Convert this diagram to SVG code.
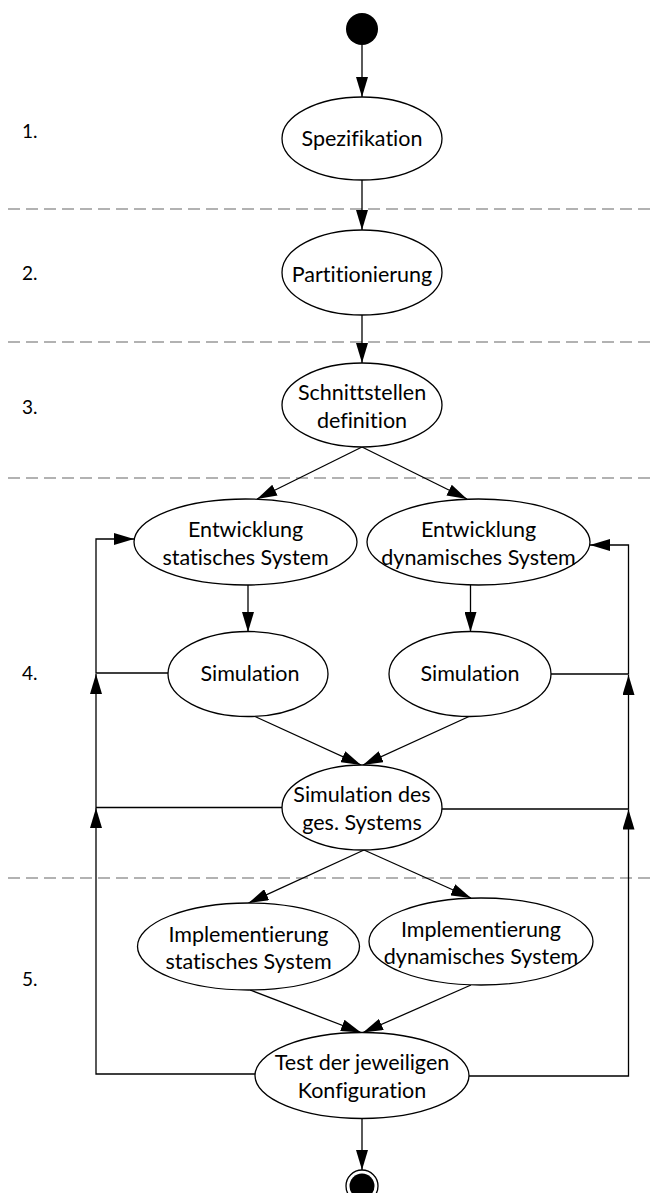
<svg xmlns="http://www.w3.org/2000/svg" width="657" height="1193" viewBox="0 0 657 1193">
  <style>
    .node { fill: #ffffff; stroke: #000000; stroke-width: 1.3; }
    .lbl { font-family: Lato, "Liberation Sans", sans-serif; font-size: 21.5px; fill: #000000; text-anchor: middle; dominant-baseline: central; font-variant-ligatures: none; }
    .num { font-family: Lato, "Liberation Sans", sans-serif; font-size: 19px; fill: #000000; dominant-baseline: central; }
    .sep { stroke: #999999; stroke-width: 1.5; stroke-dasharray: 12 6; fill: none; }
    .edge { stroke: #000000; stroke-width: 1.3; fill: none; marker-end: url(#arrow); }
  </style>
  <defs>
    <marker id="arrow" markerUnits="userSpaceOnUse" markerWidth="20" markerHeight="12" refX="20" refY="6" orient="auto">
      <path d="M0,0 L20,6 L0,12 z" fill="#000000"/>
    </marker>
  </defs>
  <rect width="657" height="1193" fill="#ffffff"/>

  <!-- phase separators -->
  <g id="separators">
    <line class="sep" x1="8" y1="209" x2="652" y2="209"/>
    <line class="sep" x1="8" y1="342" x2="652" y2="342"/>
    <line class="sep" x1="8" y1="478" x2="652" y2="478"/>
    <line class="sep" x1="8" y1="878" x2="652" y2="878"/>
  </g>

  <!-- phase numbers -->
  <g id="phases">
    <text class="num" x="22" y="130">1.</text>
    <text class="num" x="22" y="272">2.</text>
    <text class="num" x="22" y="406">3.</text>
    <text class="num" x="22" y="672">4.</text>
    <text class="num" x="22" y="978">5.</text>
  </g>

  <!-- connectors -->
  <g id="connectors">
    <line class="edge" x1="362" y1="45" x2="362" y2="97"/>
    <line class="edge" x1="362" y1="180" x2="362" y2="230"/>
    <line class="edge" x1="362" y1="315" x2="362" y2="363"/>
    <line class="edge" x1="362" y1="447" x2="257" y2="499"/>
    <line class="edge" x1="362" y1="447" x2="467" y2="499"/>
    <line class="edge" x1="248" y1="585" x2="248" y2="632"/>
    <line class="edge" x1="470.5" y1="585" x2="470.5" y2="632"/>
    <polyline class="edge" points="168,673 96,673 96,539 134,539"/>
    <polyline class="edge" points="551,674 628.5,674 628.5,545 590,545"/>
    <line class="edge" x1="255" y1="716.5" x2="361" y2="765"/>
    <line class="edge" x1="469" y1="716.5" x2="363" y2="765"/>
    <polyline class="edge" points="282,807.5 96,807.5 96,674"/>
    <polyline class="edge" points="442,809 628.5,809 628.5,675"/>
    <line class="edge" x1="364" y1="850" x2="248.5" y2="903"/>
    <line class="edge" x1="364" y1="850" x2="471" y2="898"/>
    <line class="edge" x1="250" y1="990" x2="361" y2="1032.5"/>
    <line class="edge" x1="471" y1="985" x2="363" y2="1032.5"/>
    <polyline class="edge" points="255,1074 96,1074 96,808"/>
    <polyline class="edge" points="469,1076 628.5,1076 628.5,809.5"/>
    <line class="edge" x1="362" y1="1118" x2="362" y2="1170"/>
  </g>

  <!-- nodes -->
  <g id="start">
    <circle cx="362" cy="29" r="16" fill="#000000"/>
  </g>
  <g id="spezifikation">
    <ellipse class="node" cx="362" cy="138.5" rx="80" ry="41.5"/>
    <text class="lbl" x="362" y="138">Spezifikation</text>
  </g>
  <g id="partitionierung">
    <ellipse class="node" cx="362" cy="272.5" rx="80" ry="42.5"/>
    <text class="lbl" x="362" y="274">Partitionierung</text>
  </g>
  <g id="schnittstellen">
    <ellipse class="node" cx="362" cy="405" rx="80" ry="42"/>
    <text class="lbl" x="362" y="392">Schnittstellen</text>
    <text class="lbl" x="362" y="420">definition</text>
  </g>
  <g id="entwicklung-statisch">
    <ellipse class="node" cx="245.5" cy="542" rx="111.5" ry="43"/>
    <text class="lbl" x="245.5" y="529">Entwicklung</text>
    <text class="lbl" x="245.5" y="557">statisches System</text>
  </g>
  <g id="entwicklung-dynamisch">
    <ellipse class="node" cx="478.5" cy="542" rx="111.5" ry="43"/>
    <text class="lbl" x="478.5" y="529">Entwicklung</text>
    <text class="lbl" x="478.5" y="557">dynamisches System</text>
  </g>
  <g id="simulation-statisch">
    <ellipse class="node" cx="248" cy="674" rx="80" ry="42.5"/>
    <text class="lbl" x="250" y="673">Simulation</text>
  </g>
  <g id="simulation-dynamisch">
    <ellipse class="node" cx="470" cy="674" rx="81" ry="42.5"/>
    <text class="lbl" x="470" y="673">Simulation</text>
  </g>
  <g id="simulation-gesamt">
    <ellipse class="node" cx="362" cy="807.5" rx="80" ry="42.5"/>
    <text class="lbl" x="362" y="794">Simulation des</text>
    <text class="lbl" x="362" y="822">ges. Systems</text>
  </g>
  <g id="implementierung-statisch">
    <ellipse class="node" cx="248.5" cy="946.5" rx="111" ry="43.5"/>
    <text class="lbl" x="248.5" y="934">Implementierung</text>
    <text class="lbl" x="248.5" y="961">statisches System</text>
  </g>
  <g id="implementierung-dynamisch">
    <ellipse class="node" cx="481" cy="941.5" rx="112" ry="43.5"/>
    <text class="lbl" x="481" y="929">Implementierung</text>
    <text class="lbl" x="481" y="956">dynamisches System</text>
  </g>
  <g id="test">
    <ellipse class="node" cx="362" cy="1075.5" rx="107" ry="43"/>
    <text class="lbl" x="362" y="1062">Test der jeweiligen</text>
    <text class="lbl" x="362" y="1090">Konfiguration</text>
  </g>
  <g id="end">
    <circle cx="362" cy="1186" r="16" fill="#ffffff" stroke="#000000" stroke-width="1.3"/>
    <circle cx="362" cy="1186" r="12.5" fill="#000000"/>
  </g>
</svg>
